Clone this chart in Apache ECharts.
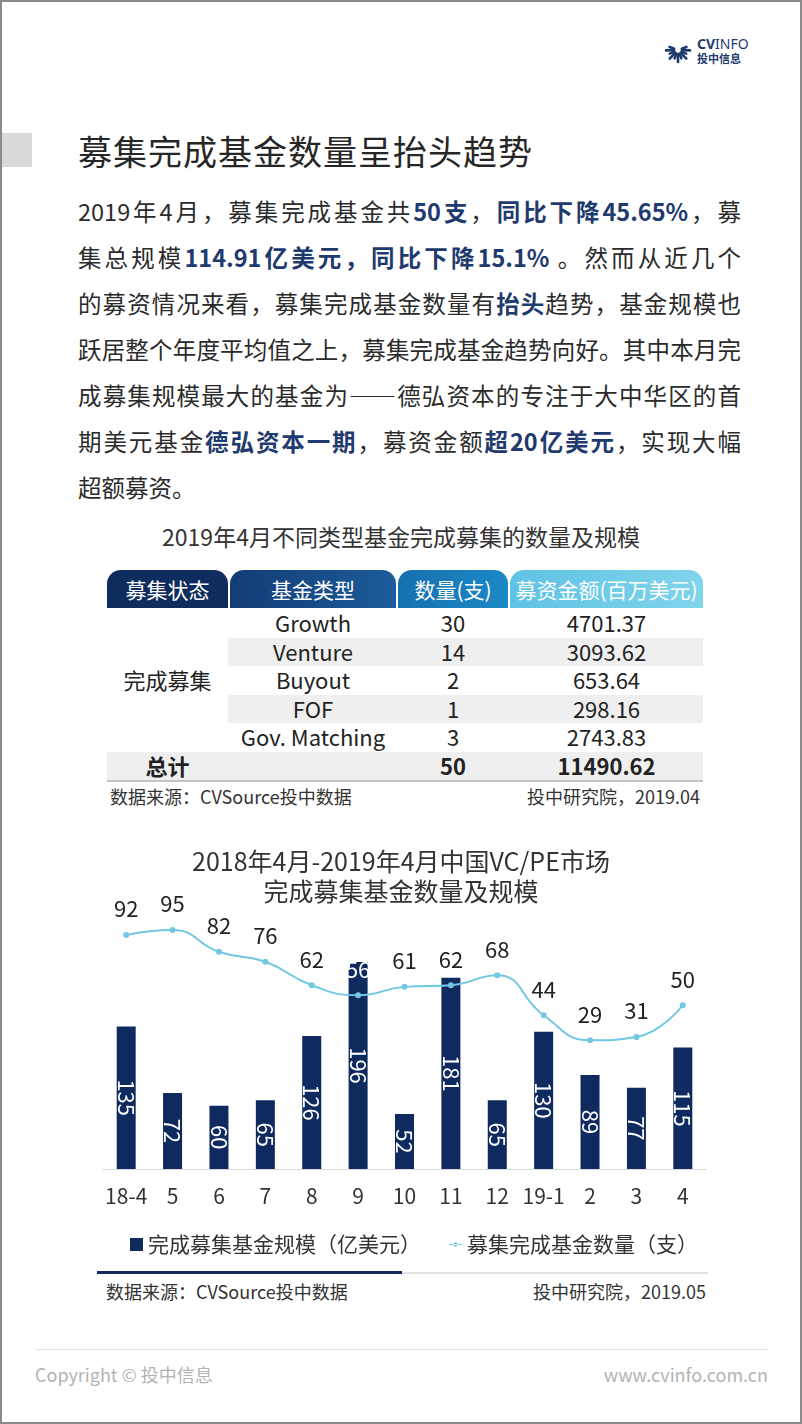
<!DOCTYPE html>
<html lang="zh">
<head>
<meta charset="UTF-8">
<title>募集完成基金数量呈抬头趋势</title>
<style>
    html, body {
        margin: 0;
        padding: 0;
        width: 802px;
        height: 1424px;
        overflow: hidden;
        background: #fff;
        font-family: "Noto Sans CJK SC", "Noto Sans", sans-serif;
        color: #2b2b2b;
    }
    body { position: relative; }
    .frame {
        position: absolute; left: 0; top: 0; width: 802px; height: 1424px;
        box-sizing: border-box; border: 2px solid #8a8a8a; pointer-events: none; z-index: 9;
    }
    .abs { position: absolute; }
    .title-block { left: 0; top: 133px; width: 32px; height: 34px; background: #d9d9d9; }
    .title { left: 78px; top: 129px; font-size: 34px; line-height: 44px; color: #262626; letter-spacing: 1px; }
    .para { left: 78px; top: 188px; width: 663px; font-size: 23.5px; }
    .para div { height: 46px; line-height: 46px; white-space: nowrap; text-align: justify; text-align-last: justify; }
    .para div.last { text-align-last: left; }
    .para b { color: #1f3a6e; }
    .sub-title { left: 0; width: 802px; top: 520px; text-align: center; font-size: 23px; line-height: 32px; color: #333; }
    #table { left: 107px; top: 570px; width: 596px; height: 212px; }
    .cell { position: absolute; text-align: center; font-size: 22px; color: #222; }
    .head { color: #fff; font-size: 21px; border-radius: 14px 14px 0 0; height: 38px; line-height: 38px; top: 0; }
    .band { position: absolute; background: #efefef; }
    .src { font-size: 18px; color: #333; line-height: 24px; }
    #chart { left: 0; top: 840px; width: 802px; height: 430px; }
    .foot { font-size: 18px; color: #b3b3b3; line-height: 26px; }
</style>
</head>
<body>
<div class="frame"></div>

<svg class="abs" style="left:664px;top:34px" width="92" height="32" viewBox="0 0 92 32">
    <g stroke="#1f3a6e" stroke-width="2.6" stroke-linecap="round" id="rays"></g>
    <text x="33" y="15" font-size="14" fill="#1f3a6e" font-family="Noto Sans, sans-serif"><tspan font-weight="bold">CV</tspan>INFO</text>
    <text x="33" y="29" font-size="11" font-weight="bold" fill="#1f3a6e" font-family="Noto Sans CJK SC, sans-serif">投中信息</text>
</svg>

<div class="abs title-block"></div>
<div class="abs title">募集完成基金数量呈抬头趋势</div>

<div class="abs para">
    <div>2019年4月，募集完成基金共<b>50支</b>，<b>同比下降45.65%</b>，募</div>
    <div>集总规模<b>114.91亿美元，同比下降15.1%</b> 。然而从近几个</div>
    <div>的募资情况来看，募集完成基金数量有<b>抬头</b>趋势，基金规模也</div>
    <div>跃居整个年度平均值之上，募集完成基金趋势向好。其中本月完</div>
    <div>成募集规模最大的基金为——德弘资本的专注于大中华区的首</div>
    <div>期美元基金<b>德弘资本一期</b>，募资金额<b>超20亿美元</b>，实现大幅</div>
    <div class="last">超额募资。</div>
</div>

<div class="abs sub-title">2019年4月不同类型基金完成募集的数量及规模</div>
<div class="abs" id="table"></div>
<div class="abs src" style="left:110px;top:784px">数据来源：CVSource投中数据</div>
<div class="abs src" style="right:102px;top:784px">投中研究院，2019.04</div>

<div class="abs" id="chart"></div>

<div class="abs" style="left:97px;top:1271px;width:305px;height:3px;background:#0f2a5e"></div>
<div class="abs" style="left:402px;top:1272px;width:306px;height:2px;background:#e3e3e3"></div>
<div class="abs src" style="left:106px;top:1279px">数据来源：CVSource投中数据</div>
<div class="abs src" style="right:96px;top:1279px">投中研究院，2019.05</div>

<div class="abs" style="left:35px;top:1349px;width:733px;height:1px;background:#e3e3e3"></div>
<div class="abs foot" style="left:35px;top:1361px">Copyright © 投中信息</div>
<div class="abs foot" style="right:34px;top:1361px">www.cvinfo.com.cn</div>

<script src="https://cdn.jsdelivr.net/npm/echarts@6/dist/echarts.min.js"></script>
<script>
    // 表格数据
    var tableHeads = ['募集状态', '基金类型', '数量(支)', '募资金额(百万美元)'];
    var fundTypes = ['Growth', 'Venture', 'Buyout', 'FOF', 'Gov. Matching'];
    var fundCounts = [30, 14, 2, 1, 3];
    var fundAmounts = ['4701.37', '3093.62', '653.64', '298.16', '2743.83'];
    var totalCount = 50;
    var totalAmount = '11490.62';

    // 图表数据
    var months = ['18-4', '5', '6', '7', '8', '9', '10', '11', '12', '19-1', '2', '3', '4'];
    var fundScale = [135, 72, 60, 65, 126, 196, 52, 181, 65, 130, 89, 77, 115];
    var fundCount = [92, 95, 82, 76, 62, 56, 61, 62, 68, 44, 29, 31, 50];

    // logo
    (function () {
        var g = document.getElementById('rays');
        var html = '';
        for (var i = 0; i < 11; i++) {
            var a = (-200 + i * 22) * Math.PI / 180;
            var r1 = 4, r2 = (i % 2) ? 12 : 9;
            html += '<line x1="' + (14 + r1 * Math.cos(a)) + '" y1="' + (16 - r1 * Math.sin(a)) +
                '" x2="' + (14 + r2 * Math.cos(a)) + '" y2="' + (16 - r2 * Math.sin(a)) + '"/>';
        }
        g.innerHTML = html;
    })();

    // 表格
    (function () {
        var colX = [0, 123, 291, 403];
        var colW = [121, 166, 110, 193];
        var headBg = [
            '#0e2c5e',
            'linear-gradient(to right,#133c75,#1c5c9a)',
            'linear-gradient(to right,#1770b0,#1c88c6)',
            'linear-gradient(to right,#5fc2e4,#80d4ea)'
        ];
        var rowTop = 39, rowH = 28.5;
        var t = document.getElementById('table');
        var html = '';
        for (var c = 0; c < 4; c++) {
            html += '<div class="cell head" style="left:' + colX[c] + 'px;width:' + colW[c] +
                'px;background:' + headBg[c] + '">' + tableHeads[c] + '</div>';
        }
        for (var r = 0; r < fundTypes.length; r++) {
            var y = rowTop + r * rowH;
            if (r % 2 === 1) {
                html += '<div class="band" style="left:121px;width:475px;top:' + y + 'px;height:' + rowH + 'px"></div>';
            }
            var vals = [fundTypes[r], fundCounts[r], fundAmounts[r]];
            for (var k = 0; k < 3; k++) {
                html += '<div class="cell" style="left:' + colX[k + 1] + 'px;width:' + colW[k + 1] +
                    'px;top:' + (y - 1) + 'px;line-height:' + rowH + 'px">' + vals[k] + '</div>';
            }
        }
        html += '<div class="cell" style="left:0;width:121px;top:' + (rowTop + 2 * rowH - 1) +
            'px;line-height:' + rowH + 'px">完成募集</div>';
        var ty = rowTop + fundTypes.length * rowH;
        html += '<div class="band" style="left:0;width:596px;top:' + ty + 'px;height:' + rowH +
            'px;border-bottom:2px solid #c4c4c4"></div>';
        var tv = ['总计', '', totalCount, totalAmount];
        for (var c2 = 0; c2 < 4; c2++) {
            html += '<div class="cell" style="font-weight:bold;left:' + colX[c2] + 'px;width:' + colW[c2] +
                'px;top:' + (ty - 1) + 'px;line-height:' + rowH + 'px">' + tv[c2] + '</div>';
        }
        t.innerHTML = html;
    })();

    // 图表
    var chart = echarts.init(document.getElementById('chart'));
    var font = '"Noto Sans CJK SC", "Noto Sans", sans-serif';
    var barName = '完成募集基金规模（亿美元）';
    var lineName = '募集完成基金数量（支）';
    // 图例里的“线+点”图标，四角放极小方块撑满 14x14 的框，避免被拉伸
    var lineIcon = 'path://M0,0h0.01v0.01h-0.01Z M13.99,13.99h0.01v0.01h-0.01Z ' +
        'M0,6.4H14V7.6H0Z M4.6,7A2.4,2.4 0 1 0 9.4,7A2.4,2.4 0 1 0 4.6,7Z';

    var lineData = fundCount.map(function (v, i) {
        // 9月的点落在柱子上，标签用白色
        if (i === 5) return { value: v, label: { color: '#fff' } };
        return v;
    });

    chart.setOption({
        animation: false,
        textStyle: { fontFamily: font },
        title: {
            text: '2018年4月-2019年4月中国VC/PE市场\n完成募集基金数量及规模',
            left: 'center',
            top: 1,
            textStyle: { fontSize: 25, fontWeight: 'normal', color: '#333', lineHeight: 30, fontFamily: font }
        },
        legend: {
            left: 125,
            top: 389,
            itemWidth: 13,
            itemHeight: 13,
            itemGap: 28,
            textStyle: { fontSize: 21, color: '#333', fontFamily: font },
            data: [{ name: barName, icon: 'rect' }, { name: lineName, icon: lineIcon }]
        },
        grid: { left: 103, right: 96, top: 65, bottom: 101 },
        xAxis: {
            type: 'category',
            data: months,
            axisLine: { lineStyle: { color: '#d9d9d9' } },
            axisTick: { length: 6, lineStyle: { color: '#d9d9d9' } },
            axisLabel: { fontSize: 21, color: '#333', margin: 17, interval: 0 }
        },
        yAxis: [
            { type: 'value', min: 0, max: 250, show: false },
            { type: 'value', min: -48, max: 110, show: false }
        ],
        series: [
            {
                name: barName,
                type: 'bar',
                data: fundScale,
                barWidth: 19,
                itemStyle: { color: '#0f2a5e' },
                label: { show: true, position: 'inside', rotate: -90, color: '#fff', fontSize: 22 }
            },
            {
                name: lineName,
                type: 'line',
                yAxisIndex: 1,
                smooth: true,
                data: lineData,
                symbol: 'circle',
                symbolSize: 6,
                lineStyle: { color: '#72c8e2', width: 2 },
                itemStyle: { color: '#72c8e2' },
                label: { show: true, position: 'top', distance: 12, fontSize: 22, color: '#222' }
            }
        ]
    });
</script>
</body>
</html>
